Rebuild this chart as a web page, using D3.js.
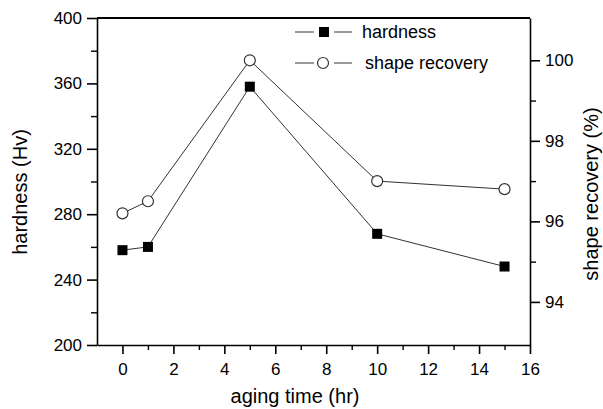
<!doctype html>
<html lang="en">
	<head>
		<meta charset="UTF-8">
		<title>hardness and shape recovery</title>
		<style>
		body { margin: 0; background: #fff; }
		svg { font-family: "Liberation Sans", Arial, sans-serif; }
		.axis path, .axis line { stroke: #000; stroke-width: 1.6px; }
		.axis text { font-size: 17px; fill: #000; }
		.minor line { stroke: #000; stroke-width: 1.4px; }
		.line { fill: none; stroke: #333; stroke-width: 1px; }
		.title { font-size: 20px; fill: #000; }
		</style>
	</head>
	<body>
		<script src="https://cdn.jsdelivr.net/npm/d3@7"></script>
		<script>
			var agingTime = [0, 1, 5, 10, 15],
				hardness = [258, 260, 358, 268, 248],
				shapeRecovery = [96.2, 96.5, 100.0, 97.0, 96.8],
				xTicks = [0, 2, 4, 6, 8, 10, 12, 14, 16],
				xMinor = [1, 3, 5, 7, 9, 11, 13, 15],
				leftTicks = [200, 240, 280, 320, 360, 400],
				leftMinor = [220, 260, 300, 340, 380],
				rightTicks = [94, 96, 98, 100],
				rightMinor = [95, 97, 99],
				legendNames = ["hardness", "shape recovery"];

			var width = 603,
				height = 409,
				plotLeft = 97,
				plotRight = 530,
				plotTop = 18,
				plotBottom = 345;

			var svg = d3.select("body").append("svg")
				.attr("width", width)
				.attr("height", height);

			var x = d3.scaleLinear().domain([-1, 16]).range([plotLeft, plotRight]);
			var yL = d3.scaleLinear().domain([200, 400]).range([plotBottom, plotTop]);
			var yR = d3.scaleLinear().domain([92.93, 101.05]).range([plotBottom, plotTop]);

			// frame top
			svg.append("line").attr("x1", plotLeft).attr("x2", plotRight).attr("y1", plotTop).attr("y2", plotTop)
				.attr("stroke", "#000").attr("stroke-width", 1.8);

			svg.append("g").attr("class", "axis")
				.attr("transform", "translate(0," + plotBottom + ")")
				.call(d3.axisBottom(x).tickValues(xTicks).tickSize(9).tickPadding(9).tickSizeOuter(0));
			svg.append("g").attr("class", "axis minor")
				.attr("transform", "translate(0," + plotBottom + ")")
				.call(d3.axisBottom(x).tickValues(xMinor).tickSize(5).tickFormat(""))
				.select(".domain").remove();

			svg.append("g").attr("class", "axis")
				.attr("transform", "translate(" + plotLeft + ",0)")
				.call(d3.axisLeft(yL).tickValues(leftTicks).tickSize(10).tickPadding(5).tickSizeOuter(0));
			svg.append("g").attr("class", "axis minor")
				.attr("transform", "translate(" + plotLeft + ",0)")
				.call(d3.axisLeft(yL).tickValues(leftMinor).tickSize(6).tickFormat(""))
				.select(".domain").remove();

			svg.append("g").attr("class", "axis")
				.attr("transform", "translate(" + plotRight + ",0)")
				.call(d3.axisRight(yR).tickValues(rightTicks).tickSize(10).tickPadding(5).tickSizeOuter(0));
			svg.append("g").attr("class", "axis minor")
				.attr("transform", "translate(" + plotRight + ",0)")
				.call(d3.axisRight(yR).tickValues(rightMinor).tickSize(6).tickFormat(""))
				.select(".domain").remove();
			svg.selectAll(".axis .domain").attr("stroke-width", 1.8);

			// titles
			svg.append("text").attr("class", "title")
				.attr("x", 295).attr("y", 403)
				.attr("text-anchor", "middle").text("aging time (hr)");
			svg.append("text").attr("class", "title")
				.attr("transform", "translate(27,192) rotate(-90)")
				.attr("text-anchor", "middle").text("hardness (Hv)");
			svg.append("text").attr("class", "title")
				.attr("transform", "translate(598,194) rotate(-90)")
				.attr("text-anchor", "middle").text("shape recovery (%)");

			// hardness
			var hData = agingTime.map(function(d, i){ return [d, hardness[i]]; });
			svg.append("path").attr("class", "line")
				.attr("d", d3.line().x(function(d){ return x(d[0]); }).y(function(d){ return yL(d[1]); })(hData));
			svg.selectAll("rect.h").data(hData).enter().append("rect")
				.attr("class", "h")
				.attr("x", function(d){ return x(d[0]) - 5; })
				.attr("y", function(d){ return yL(d[1]) - 5; })
				.attr("width", 10).attr("height", 10)
				.attr("fill", "#000");

			// shape recovery
			var sData = agingTime.map(function(d, i){ return [d, shapeRecovery[i]]; });
			svg.append("path").attr("class", "line")
				.attr("d", d3.line().x(function(d){ return x(d[0]); }).y(function(d){ return yR(d[1]); })(sData));
			svg.selectAll("circle.s").data(sData).enter().append("circle")
				.attr("class", "s")
				.attr("cx", function(d){ return x(d[0]); })
				.attr("cy", function(d){ return yR(d[1]); })
				.attr("r", 5.5)
				.attr("fill", "#fff").attr("stroke", "#333").attr("stroke-width", 1.2);

			// legend
			var lg = svg.selectAll("g.legend").data(legendNames).enter().append("g")
				.attr("class", "legend")
				.attr("transform", function(d, i){ return "translate(0," + (32 + i * 31) + ")"; });
			lg.append("line").attr("x1", 295).attr("x2", 314).attr("stroke", "#333");
			lg.append("line").attr("x1", 334).attr("x2", 352).attr("stroke", "#333");
			lg.filter(function(d, i){ return i === 0; }).append("rect")
				.attr("x", 319).attr("y", -5).attr("width", 10).attr("height", 10).attr("fill", "#000");
			lg.filter(function(d, i){ return i === 1; }).append("circle")
				.attr("cx", 323).attr("cy", 0).attr("r", 5.5)
				.attr("fill", "#fff").attr("stroke", "#333").attr("stroke-width", 1.2);
			lg.append("text").attr("class", "title")
				.attr("x", function(d, i){ return i === 0 ? 362 : 365; })
				.attr("dy", "0.35em")
				.style("font-size", "18px")
				.text(function(d){ return d; });
		</script>
	</body>
</html>
